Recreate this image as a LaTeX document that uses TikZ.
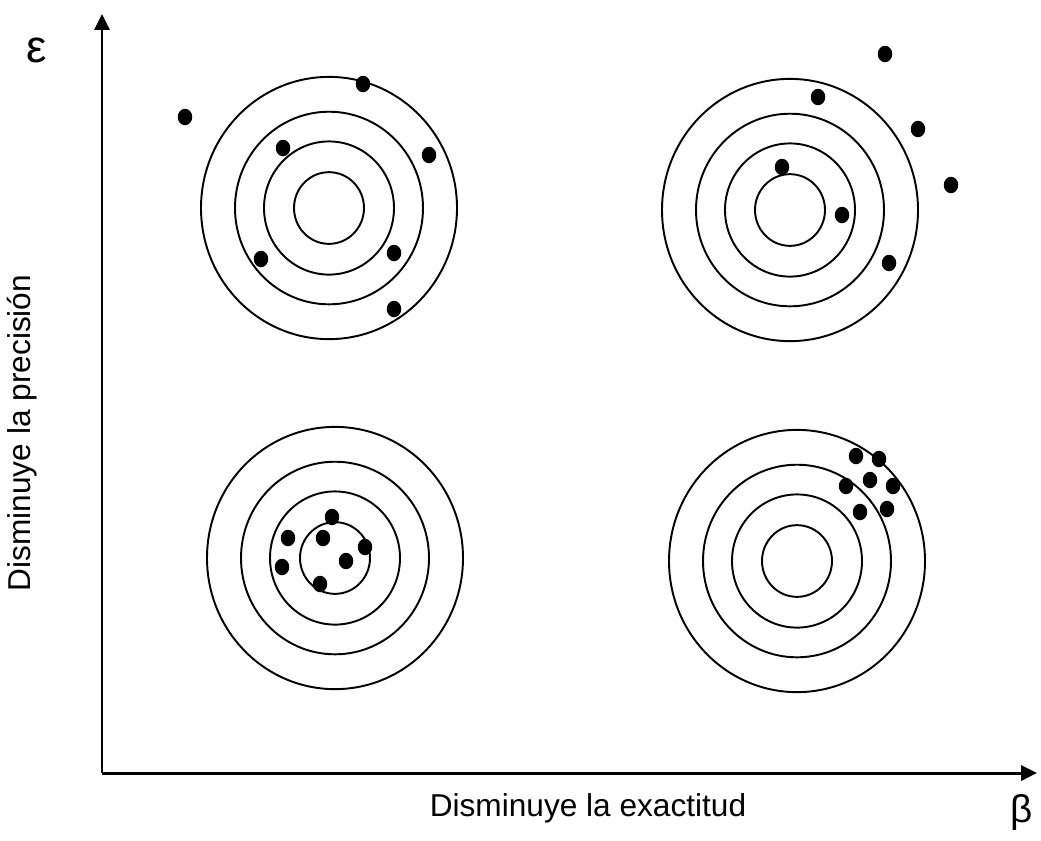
\documentclass[tikz,border=0pt]{standalone}
\usepackage{fontspec}
\setmainfont{Liberation Sans}
\usetikzlibrary{arrows.meta, shapes.geometric}

\begin{document}
\begin{tikzpicture}[
    x=0.02cm, y=-0.02cm,
    every node/.style={font=\fontsize{18}{21}\selectfont},
    axis/.style={-{Triangle[length=9pt,width=8.5pt]}, line width=1.7pt},
    ring/.style={line width=1.1pt},
    hit/.style={ellipse, fill=black, inner sep=0pt,
                minimum width=0.29cm, minimum height=0.33cm},
]
\useasboundingbox (0,0) rectangle (1041,840);

%% ── Axes ─────────────────────────────────────────────────────────────────────
\coordinate (origin) at (102,773);
\coordinate (ytop)   at (102,14);
\coordinate (xend)   at (1037,773);
\draw[axis] (origin) -- (ytop);
\draw[axis] (origin) -- (xend);

%% ── Axis labels ──────────────────────────────────────────────────────────────
\node (eps)    at (37,50)    {\fontsize{26}{28}\selectfont ε};
\node (beta)   at (1022,812) {\fontsize{22}{24}\selectfont β};
\node (xlabel) at (588,808)  {Disminuye la exactitud};
\node[rotate=90] (ylabel) at (22,433) {Disminuye la precisión};

%% ── Targets ──────────────────────────────────────────────────────────────────
\foreach \n/\cx/\cy in {tl/329/208, tr/790/210, bl/335/558, br/797/561} {
  \coordinate (\n) at (\cx,\cy);
  \foreach \r in {35,65,94,128}
    \draw[ring] (\n) ellipse [x radius=\r*0.02cm, y radius=\r*0.0205cm];
}

%% ── Shots ────────────────────────────────────────────────────────────────────
% top left: neither precise nor accurate
\foreach \x/\y [count=\i] in {185/117, 363/84, 283/148, 429/155,
                              261/259, 394/253, 394/309}
  \node[hit] (tl-\i) at (\x,\y) {};

% top right
\foreach \x/\y [count=\i] in {885/54, 818/97, 918/129, 951/185,
                              782/167, 842/215, 889/263}
  \node[hit] (tr-\i) at (\x,\y) {};

% bottom left
\foreach \x/\y [count=\i] in {332/517, 288/538, 323/538, 365/547,
                              346/561, 282/567, 320/584}
  \node[hit] (bl-\i) at (\x,\y) {};

% bottom right
\foreach \x/\y [count=\i] in {856/456, 879/459, 870/480, 893/486,
                              846/486, 860/512, 887/509}
  \node[hit] (br-\i) at (\x,\y) {};

\end{tikzpicture}
\end{document}
